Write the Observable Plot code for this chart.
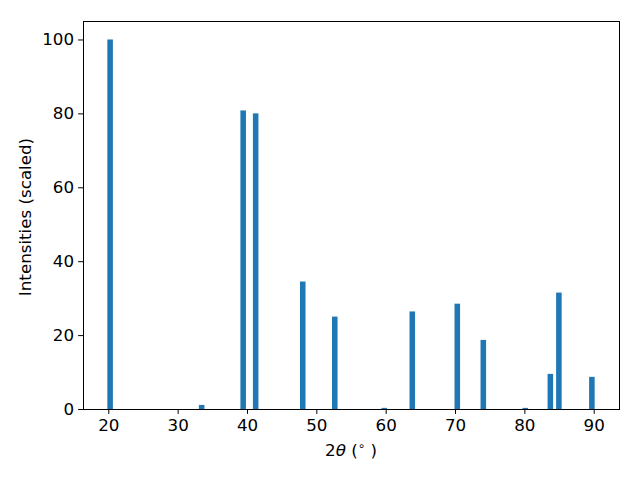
<!DOCTYPE html>
<html>
<head>
<meta charset="utf-8">
<script src="https://cdn.jsdelivr.net/npm/d3@7"></script>
<script src="https://cdn.jsdelivr.net/npm/@observablehq/plot@0.6"></script>
<style>
  html, body { margin: 0; padding: 0; background: white; }
  #chart svg { font-family: "DejaVu Sans", sans-serif !important; font-size: 16.7px !important; }
</style>
</head>
<body>
<div id="chart"></div>
<script>
const twoTheta = [20.26, 33.46, 39.45, 41.25, 48.04, 52.66, 59.8, 63.84, 70.33, 74.08, 80.14, 83.75, 84.98, 89.74];
const intensity = [100, 1.1, 80.8, 80.0, 34.5, 25.0, 0.3, 26.4, 28.5, 18.7, 0.3, 9.5, 31.5, 8.7];
const xTicks = [20, 30, 40, 50, 60, 70, 80, 90];
const yTicks = [0, 20, 40, 60, 80, 100];

const data = twoTheta.map((x, i) => ({x, y: intensity[i]}));
const halfWidth = 0.4;

const chart = Plot.plot({
  width: 640,
  height: 480,
  marginLeft: 83,
  marginRight: 21,
  marginTop: 21,
  marginBottom: 71,
  style: {background: "white", color: "black"},
  x: {domain: [16.35, 93.65]},
  y: {domain: [0, 105]},
  marks: [
    Plot.rectY(data, {x1: d => d.x - halfWidth, x2: d => d.x + halfWidth, y1: 0, y2: "y", fill: "#1f77b4"}),
    Plot.frame({stroke: "black", strokeWidth: 1}),
    Plot.axisX({ticks: xTicks, tickSize: 4.9, tickPadding: 4.5, label: null, tickFormat: d => String(d)}),
    Plot.axisY({ticks: yTicks, tickSize: 4.9, tickPadding: 4.5, label: null, tickFormat: d => String(d)})
  ]
});

document.getElementById("chart").appendChild(chart);

const svg = d3.select(chart);
const xl = svg.append("text")
  .attr("x", 351).attr("y", 456)
  .attr("text-anchor", "middle")
  .attr("fill", "black");
xl.append("tspan").text("2");
xl.append("tspan").attr("font-style", "italic").text("θ");
xl.append("tspan").text(" (");
xl.append("tspan").style("font-size", "11.7px").attr("dy", "-6").text("∘");
xl.append("tspan").attr("dy", "6").text(" )");

svg.append("text")
  .attr("transform", "translate(31,217) rotate(-90)")
  .attr("text-anchor", "middle")
  .attr("fill", "black")
  .text("Intensities (scaled)");
</script>
</body>
</html>
